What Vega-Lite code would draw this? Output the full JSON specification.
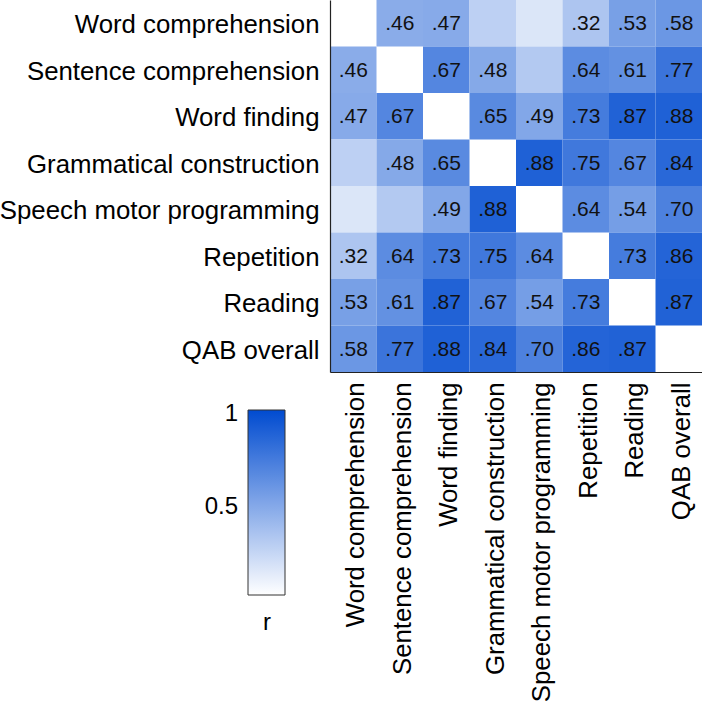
{
  "$schema": "https://vega.github.io/schema/vega-lite/v6.json",
  "autosize": "none",
  "padding": {"left": 330, "top": 0, "right": 0, "bottom": 332},
  "width": 372,
  "height": 372,
  "background": "white",
  "config": {
    "view": {"stroke": null},
    "font": "Liberation Sans",
    "axis": {"grid": false, "ticks": false, "domainColor": "#222", "domainWidth": 1.2, "labelColor": "black", "labelFont": "Liberation Sans", "labelFontSize": 25.8, "title": null, "labelLimit": 0}
  },
  "data": {"values": [
    {"row":"Word comprehension","col":"Sentence comprehension","r":0.46,"label":".46"},
    {"row":"Word comprehension","col":"Word finding","r":0.47,"label":".47"},
    {"row":"Word comprehension","col":"Grammatical construction","r":0.26,"label":""},
    {"row":"Word comprehension","col":"Speech motor programming","r":0.14,"label":""},
    {"row":"Word comprehension","col":"Repetition","r":0.32,"label":".32"},
    {"row":"Word comprehension","col":"Reading","r":0.53,"label":".53"},
    {"row":"Word comprehension","col":"QAB overall","r":0.58,"label":".58"},
    {"row":"Sentence comprehension","col":"Word comprehension","r":0.46,"label":".46"},
    {"row":"Sentence comprehension","col":"Word finding","r":0.67,"label":".67"},
    {"row":"Sentence comprehension","col":"Grammatical construction","r":0.48,"label":".48"},
    {"row":"Sentence comprehension","col":"Speech motor programming","r":0.30,"label":""},
    {"row":"Sentence comprehension","col":"Repetition","r":0.64,"label":".64"},
    {"row":"Sentence comprehension","col":"Reading","r":0.61,"label":".61"},
    {"row":"Sentence comprehension","col":"QAB overall","r":0.77,"label":".77"},
    {"row":"Word finding","col":"Word comprehension","r":0.47,"label":".47"},
    {"row":"Word finding","col":"Sentence comprehension","r":0.67,"label":".67"},
    {"row":"Word finding","col":"Grammatical construction","r":0.65,"label":".65"},
    {"row":"Word finding","col":"Speech motor programming","r":0.49,"label":".49"},
    {"row":"Word finding","col":"Repetition","r":0.73,"label":".73"},
    {"row":"Word finding","col":"Reading","r":0.87,"label":".87"},
    {"row":"Word finding","col":"QAB overall","r":0.88,"label":".88"},
    {"row":"Grammatical construction","col":"Word comprehension","r":0.26,"label":""},
    {"row":"Grammatical construction","col":"Sentence comprehension","r":0.48,"label":".48"},
    {"row":"Grammatical construction","col":"Word finding","r":0.65,"label":".65"},
    {"row":"Grammatical construction","col":"Speech motor programming","r":0.88,"label":".88"},
    {"row":"Grammatical construction","col":"Repetition","r":0.75,"label":".75"},
    {"row":"Grammatical construction","col":"Reading","r":0.67,"label":".67"},
    {"row":"Grammatical construction","col":"QAB overall","r":0.84,"label":".84"},
    {"row":"Speech motor programming","col":"Word comprehension","r":0.14,"label":""},
    {"row":"Speech motor programming","col":"Sentence comprehension","r":0.30,"label":""},
    {"row":"Speech motor programming","col":"Word finding","r":0.49,"label":".49"},
    {"row":"Speech motor programming","col":"Grammatical construction","r":0.88,"label":".88"},
    {"row":"Speech motor programming","col":"Repetition","r":0.64,"label":".64"},
    {"row":"Speech motor programming","col":"Reading","r":0.54,"label":".54"},
    {"row":"Speech motor programming","col":"QAB overall","r":0.70,"label":".70"},
    {"row":"Repetition","col":"Word comprehension","r":0.32,"label":".32"},
    {"row":"Repetition","col":"Sentence comprehension","r":0.64,"label":".64"},
    {"row":"Repetition","col":"Word finding","r":0.73,"label":".73"},
    {"row":"Repetition","col":"Grammatical construction","r":0.75,"label":".75"},
    {"row":"Repetition","col":"Speech motor programming","r":0.64,"label":".64"},
    {"row":"Repetition","col":"Reading","r":0.73,"label":".73"},
    {"row":"Repetition","col":"QAB overall","r":0.86,"label":".86"},
    {"row":"Reading","col":"Word comprehension","r":0.53,"label":".53"},
    {"row":"Reading","col":"Sentence comprehension","r":0.61,"label":".61"},
    {"row":"Reading","col":"Word finding","r":0.87,"label":".87"},
    {"row":"Reading","col":"Grammatical construction","r":0.67,"label":".67"},
    {"row":"Reading","col":"Speech motor programming","r":0.54,"label":".54"},
    {"row":"Reading","col":"Repetition","r":0.73,"label":".73"},
    {"row":"Reading","col":"QAB overall","r":0.87,"label":".87"},
    {"row":"QAB overall","col":"Word comprehension","r":0.58,"label":".58"},
    {"row":"QAB overall","col":"Sentence comprehension","r":0.77,"label":".77"},
    {"row":"QAB overall","col":"Word finding","r":0.88,"label":".88"},
    {"row":"QAB overall","col":"Grammatical construction","r":0.84,"label":".84"},
    {"row":"QAB overall","col":"Speech motor programming","r":0.70,"label":".70"},
    {"row":"QAB overall","col":"Repetition","r":0.86,"label":".86"},
    {"row":"QAB overall","col":"Reading","r":0.87,"label":".87"}
  ]},
  "encoding": {
    "x": {"field": "col", "type": "nominal", "sort": ["Word comprehension","Sentence comprehension","Word finding","Grammatical construction","Speech motor programming","Repetition","Reading","QAB overall"], "scale": {"domain": ["Word comprehension","Sentence comprehension","Word finding","Grammatical construction","Speech motor programming","Repetition","Reading","QAB overall"], "paddingInner": 0, "paddingOuter": 0}, "axis": {"orient": "bottom", "labelAngle": -90, "labelAlign": "right", "labelBaseline": "middle", "labelPadding": 10, "labelOffset": 3}},
    "y": {"field": "row", "type": "nominal", "sort": ["Word comprehension","Sentence comprehension","Word finding","Grammatical construction","Speech motor programming","Repetition","Reading","QAB overall"], "scale": {"domain": ["Word comprehension","Sentence comprehension","Word finding","Grammatical construction","Speech motor programming","Repetition","Reading","QAB overall"], "paddingInner": 0, "paddingOuter": 0}, "axis": {"orient": "left", "labelPadding": 11, "labelOffset": 2}}
  },
  "layer": [
    {
      "mark": {"type": "rect"},
      "encoding": {
        "color": {"field": "r", "type": "quantitative", "scale": {"domain": [0, 1], "range": ["#ffffff", "#004bd0"], "interpolate": "rgb"},
          "legend": {"orient": "none", "legendX": -82, "legendY": 410, "direction": "vertical", "gradientLength": 185, "gradientThickness": 37, "gradientStrokeColor": "#333", "gradientStrokeWidth": 1, "values": [0.5, 1], "format": ".1~f", "labelFontSize": 24, "labelColor": "black", "labelAlign": "right", "labelOffset": -47, "title": "r", "titleOrient": "bottom", "titleFontSize": 24, "titleFontWeight": "normal", "titleColor": "black", "titleAnchor": "middle", "titleAlign": "center", "titlePadding": 15, "padding": 0,
            "encoding": {"labels": {"align": {"value": "right"}, "baseline": {"value": "middle"}, "dy": {"value": 4}}}}}
      }
    },
    {
      "mark": {"type": "text", "fontSize": 21, "color": "#111", "font": "Liberation Sans", "dy": 1},
      "encoding": {"text": {"field": "label", "type": "nominal"}}
    }
  ]
}
